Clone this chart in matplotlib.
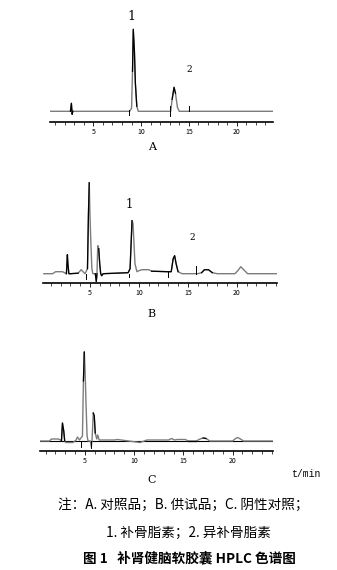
import numpy as np
import matplotlib.pyplot as plt
from matplotlib.ticker import MultipleLocator

plt.rcParams['font.family'] = ['Noto Sans CJK SC', 'DejaVu Sans']

W, H = 337, 570

########################################
# data (t in min, signal in arbitrary units)

# A - reference substances
a_t = [0.5, 2.6, 2.7, 2.78, 2.85, 3.0, 8.8, 9.0, 9.1, 9.18, 9.3, 9.4, 9.55, 9.7,
       13.1, 13.25, 13.45, 13.6, 13.8, 14.0, 23.8]
a_y = [0, 0, 8, -3, 0, 0, 0, 3, 40, 82, 60, 28, 5, 0,
       0, 12, 24, 18, 4, 0, 0]
a_black = [(2.6, 2.85), (9.1, 9.6), (13.25, 13.6)]
a_marks = [(8.7, -4, 1), (13.0, -5, 5), (15.0, 0, 5)]

# B - sample
b_t = [0.3, 1.2, 1.5, 2.2, 2.5, 2.6, 2.7, 2.75, 2.85, 3.0, 3.8, 4.1, 4.3, 4.5,
       4.75, 4.85, 4.93, 5.0, 5.1, 5.2, 5.3, 5.55, 5.65, 5.72, 5.8, 5.9, 6.0, 6.1, 6.2, 6.35,
       8.9, 9.1, 9.3, 9.4, 9.5, 9.6, 9.8, 10.0, 10.3, 11.0, 11.3, 12.9,
       13.3, 13.5, 13.65, 13.8, 14.0, 14.4, 16.0, 16.4, 16.7, 17.1, 17.5, 18.0,
       19.8, 20.1, 20.4, 20.7, 21.1, 24.1]
b_y = [0, 0, 2, 2, 0.5, 0, 19, 10, 0, 0, 0.5, 4, 2, 0,
       5, 60, 91, 60, 30, 5, 0, 0, -8, 0, 28, 25, 10, 0, -2, 0,
       1, 5, 53, 50, 30, 10, 2, 3, 4, 4, 2.5, 2,
       2, 15, 18, 10, 2, 0, 0, 1, 4, 4, 1, 0,
       0, 3, 7, 4, 0, 0]
b_black = [(2.55, 3.8), (4.75, 4.95), (5.55, 5.75), (5.85, 9.3), (11.3, 14.1), (16.3, 17.6)]
b_marks = [(4.6, -5, 0), (9.0, -3, 0), (13.0, -3, 3), (15.8, 0, 8)]

# C - negative control
c_t = [0.45, 1.4, 1.6, 2.3, 2.55, 2.62, 2.72, 2.85, 2.95, 3.05, 3.8, 4.1, 4.25, 4.45,
       4.75, 4.85, 4.94, 5.02, 5.12, 5.22, 5.32, 5.55, 5.65, 5.72, 5.85, 5.95, 6.05,
       6.2, 6.3, 6.45, 8.0, 8.3, 10.6, 11.3, 13.5, 13.8, 14.1, 14.4, 15.2, 15.5,
       16.3, 16.7, 17.0, 17.3, 17.7, 20.0, 20.3, 20.5, 20.8, 21.1, 24.1]
c_y = [0, 0, 2, 2, 1, 0, 18, 10, 0, -1.5, -1.5, 1, 4, 1,
       5, 60, 89, 70, 35, 5, 0, 0, -6, 0, 28, 25, 8,
       2, 6, 1, 1, 1.5, -1.5, 1, 1, 2.5, 1, 1.5, 1.5, 0,
       0, 2, 3, 2.5, 0, 0, 2.5, 3.5, 2, 0, 0]
c_black = [(2.6, 3.0), (4.8, 4.97), (5.85, 6.05), (15.5, 16.3), (16.8, 17.4)]
c_marks = [(4.6, -6, 0), (5.65, -7, 0)]

panel_names = ['A', 'B', 'C']
peak_labels = {'A': [('1', 131, 17, 9), ('2', 189, 70, 6.5)],
               'B': [('1', 129, 205, 8.5), ('2', 192, 238, 6.5)],
               'C': []}

# pixel boxes (left, right, top, spine) and limits of each panel
boxes = {'A': (50, 272.7, 15, 122, 0.46, 23.78, -10.7, 96.3),
         'B': (43.3, 277, 175, 282.7, 0.24, 24.1, -9, 98.7),
         'C': (40, 273, 345, 450.7, 0.44, 24.1, -9.7, 96)}
panel_data = {'A': (a_t, a_y, a_black, a_marks),
              'B': (b_t, b_y, b_black, b_marks),
              'C': (c_t, c_y, c_black, c_marks)}
letter_pos = {'A': (151.7, 146.7), 'B': (151, 314), 'C': (151.7, 480)}

gray = '#7c7c7c'

fig = plt.figure(figsize=(W / 100, H / 100), dpi=100)
fig.patch.set_facecolor('white')

for name in panel_names:
    x0, x1, top, spine, t0, t1, y0, y1 = boxes[name]
    ax = fig.add_axes([x0 / W, 1 - spine / H, (x1 - x0) / W, (spine - top) / H])
    t, y, black, marks = panel_data[name]
    t = np.array(t)
    y = np.array(y)
    ax.plot(t, y, color=gray, lw=1.0)
    # black parts of the trace
    for s, e in black:
        m = (t >= s) & (t <= e)
        ax.plot(t[m], y[m], color='black', lw=0.9)
    if name == 'C':
        ax.plot([t0, t1], [0, 0], color='black', lw=0.8, zorder=0)
    for mt, lo, hi in marks:
        ax.plot([mt, mt], [lo, hi], color='black', lw=0.7)

    ax.set_xlim(t0, t1)
    ax.set_ylim(y0, y1)
    for sp in ['top', 'right', 'left']:
        ax.spines[sp].set_visible(False)
    ax.spines['bottom'].set_linewidth(1.2)
    ax.set_yticks([])
    ax.xaxis.set_major_locator(MultipleLocator(5))
    ax.xaxis.set_minor_locator(MultipleLocator(1))
    ax.tick_params(axis='x', which='major', direction='out', length=2.8, width=0.6,
                   labelsize=5, pad=1.5)
    ax.tick_params(axis='x', which='minor', direction='out', length=2, width=0.5)
    ax.patch.set_alpha(0)

    for txt, px, py, fs in peak_labels[name]:
        fig.text(px / W, 1 - py / H, txt, ha='center', va='center', fontsize=fs,
                 family='DejaVu Serif')
    lx, ly = letter_pos[name]
    fig.text(lx / W, 1 - ly / H, name, ha='center', va='center', fontsize=8,
             family='DejaVu Serif')

fig.text(306 / W, 1 - 474 / H, 't/min', ha='center', va='center', fontsize=7,
         family='Liberation Mono')

captions = ['注：A. 对照品；B. 供试品；C. 阴性对照；',
            '1. 补骨脂素；2. 异补骨脂素',
            '图 1   补肾健脑软胶囊 HPLC 色谱图']
fig.text(183 / W, 1 - 505 / H, captions[0], ha='center', va='center', fontsize=9.8)
fig.text(188 / W, 1 - 532 / H, captions[1], ha='center', va='center', fontsize=9.8)
fig.text(189 / W, 1 - 558 / H, captions[2], ha='center', va='center', fontsize=9.8,
         fontweight='bold')

fig.savefig('out.png', dpi=100)
